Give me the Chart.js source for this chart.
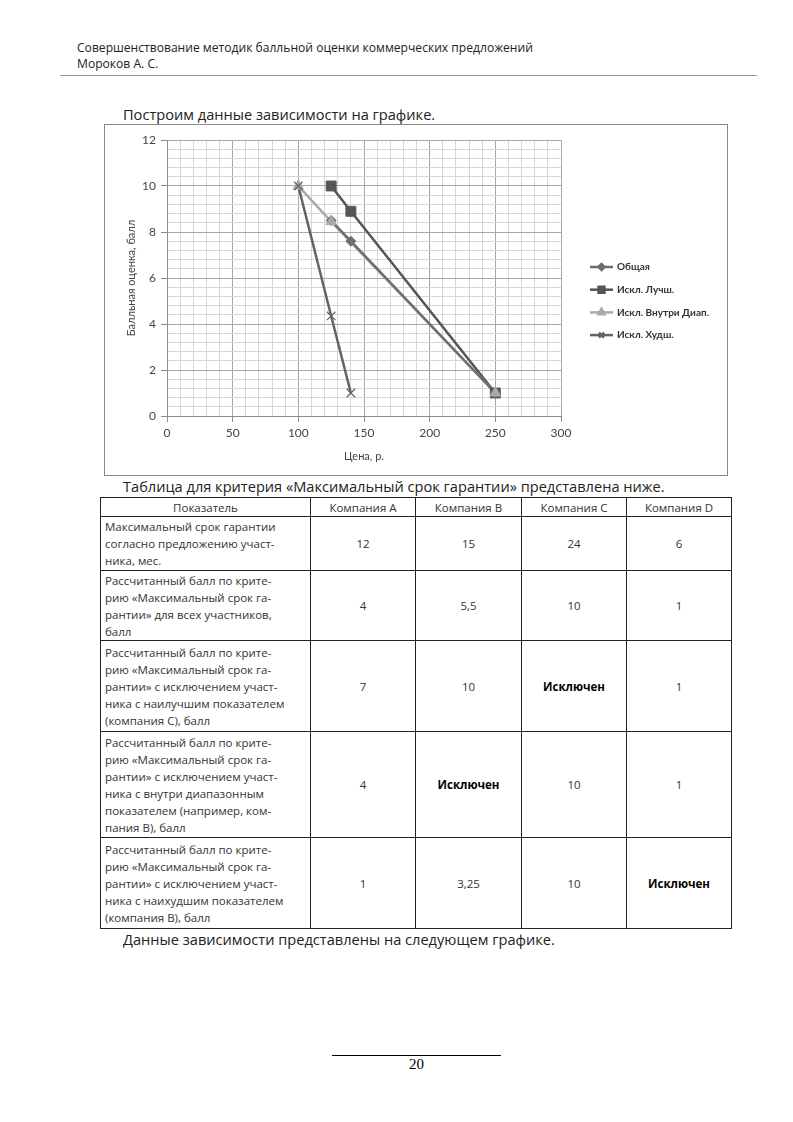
<!DOCTYPE html>
<html>
<head>
<meta charset="utf-8">
<script src="https://cdn.jsdelivr.net/npm/chart.js@4.4.0/dist/chart.umd.min.js"></script>
<style>
  body { margin: 0; background: #fff; }
  .page { position: relative; width: 793px; height: 1122px; font-family: "Open Sans", sans-serif; color: #222; }
  .abs { position: absolute; white-space: nowrap; }
  .head { font-size: 12.1px; left: 77px; }
  .para { font-size: 14.6px; left: 123px; }
  .chartBox { position: absolute; left: 104px; top: 124px; width: 622px; height: 350px; border: 1px solid #8a8a8a; }
  table { position: absolute; left: 100px; top: 497px; border-collapse: collapse; table-layout: fixed; width: 631px; font-size: 11.5px; color: #333; }
  td { border: 1px solid #222; padding: 0 4px; line-height: 17px; text-align: center; vertical-align: middle; white-space: nowrap; overflow: hidden; }
  td.name { text-align: left; }
  td b { font-weight: 700; color: #000; }
</style>
</head>
<body>
<div class="page">
  <div class="abs head" style="top:39px">Совершенствование методик балльной оценки коммерческих предложений</div>
  <div class="abs head" style="top:55px">Мороков А. С.</div>
  <div style="position:absolute; left:60px; top:75px; width:697px; height:1px; background:#999"></div>

  <div class="abs para" style="top:104px">Построим данные зависимости на графике.</div>

  <div class="chartBox"><canvas id="scoreChart"></canvas></div>

  <div class="abs para" style="top:476px">Таблица для критерия «Максимальный срок гарантии» представлена ниже.</div>

  <table>
    <colgroup>
      <col style="width:210px"><col style="width:105px"><col style="width:106px"><col style="width:105px"><col style="width:105px">
    </colgroup>
    <tr style="height:19px">
      <td>Показатель</td>
      <td>Компания A</td>
      <td>Компания B</td>
      <td>Компания C</td>
      <td>Компания D</td>
    </tr>
    <tr style="height:54px">
      <td class="name">Максимальный срок гарантии<br>согласно предложению участ-<br>ника, мес.</td>
      <td>12</td><td>15</td><td>24</td><td>6</td>
    </tr>
    <tr style="height:70px">
      <td class="name">Рассчитанный балл по крите-<br>рию «Максимальный срок га-<br>рантии» для всех участников,<br>балл</td>
      <td>4</td><td>5,5</td><td>10</td><td>1</td>
    </tr>
    <tr style="height:91px">
      <td class="name">Рассчитанный балл по крите-<br>рию «Максимальный срок га-<br>рантии» с исключением участ-<br>ника с наилучшим показателем<br>(компания C), балл</td>
      <td>7</td><td>10</td><td><b>Исключен</b></td><td>1</td>
    </tr>
    <tr style="height:106px">
      <td class="name">Рассчитанный балл по крите-<br>рию «Максимальный срок га-<br>рантии» с исключением участ-<br>ника с внутри диапазонным<br>показателем (например, ком-<br>пания B), балл</td>
      <td>4</td><td><b>Исключен</b></td><td>10</td><td>1</td>
    </tr>
    <tr style="height:91px">
      <td class="name">Рассчитанный балл по крите-<br>рию «Максимальный срок га-<br>рантии» с исключением участ-<br>ника с наихудшим показателем<br>(компания B), балл</td>
      <td>1</td><td>3,25</td><td>10</td><td><b>Исключен</b></td>
    </tr>
  </table>

  <div class="abs para" style="top:929px">Данные зависимости представлены на следующем графике.</div>

  <div style="position:absolute; left:332px; top:1055px; width:169px; height:1px; background:#000"></div>
  <div class="abs" style="top:1056px; left:0; width:833px; text-align:center; font-family:'Liberation Serif', serif; font-size:15px; color:#000">20</div>
</div>

<script>
// Data
const priceGeneral = [125, 140, 250];
const scoreGeneral = [8.5, 7.6, 1];

const priceBest = [125, 140, 250];
const scoreBest = [10, 8.9, 1];

const priceInside = [100, 125, 250];
const scoreInside = [10, 8.45, 1];

const priceWorst = [100, 125, 140];
const scoreWorst = [10, 4.35, 1];

const seriesNames = ["Общая", "Искл. Лучш.", "Искл. Внутри Диап.", "Искл. Худш."];
const seriesColors = ["#6e6e6e", "#555555", "#a9a9a9", "#636363"];
const seriesMarkers = ["rectRot", "rect", "triangle", "crossRot"];
const markerSizes = [5, 7, 6, 6];

function toPoints(xs, ys) {
    return xs.map((x, i) => ({ x: x, y: ys[i] }))
}

const isMajor = (v, step) => Math.abs(v / step - Math.round(v / step)) < 1e-6;

const seriesPoints = [
    toPoints(priceGeneral, scoreGeneral),
    toPoints(priceBest, scoreBest),
    toPoints(priceInside, scoreInside),
    toPoints(priceWorst, scoreWorst)
];

// like Excel: every line first, then every marker on top of them
const lineOrder = [4, 6, 5, 7];
const markerOrder = [2, 3, 1, 0];

let datasets = [];
seriesPoints.forEach((pts, i) => {
    datasets.push({
        label: seriesNames[i],
        data: pts,
        showLine: true,
        borderColor: seriesColors[i],
        backgroundColor: seriesColors[i],
        borderWidth: 2.5,
        pointRadius: 0,
        order: lineOrder[i]
    });
});
seriesPoints.forEach((pts, i) => {
    datasets.push({
        label: seriesNames[i] + " marker",
        data: pts,
        showLine: false,
        borderColor: seriesColors[i],
        backgroundColor: seriesColors[i],
        pointStyle: seriesMarkers[i],
        pointRadius: markerSizes[i],
        pointBorderWidth: seriesMarkers[i] == "crossRot" ? 1.2 : 1,
        order: markerOrder[i]
    });
});

// Excel style legend: line with marker, then text
const lineLegend = {
    id: "lineLegend",
    afterDraw(chart) {
        const c = chart.ctx;
        const x0 = 485, yStart = 142, gap = 22.7;
        seriesNames.forEach((name, i) => {
            const y = yStart + i * gap;
            c.save();
            c.strokeStyle = seriesColors[i];
            c.fillStyle = seriesColors[i];
            c.lineWidth = 2.5;
            c.beginPath();
            c.moveTo(x0, y);
            c.lineTo(x0 + 23, y);
            c.stroke();
            Chart.helpers.drawPoint(c, {
                pointStyle: seriesMarkers[i],
                radius: markerSizes[i] * 0.6,
                borderWidth: 1
            }, x0 + 11.5, y);
            c.fillStyle = "#333";
            c.font = "bold 10px Lato";
            c.textBaseline = "middle";
            c.fillText(name, x0 + 27, y);
            c.restore();
        });
    }
};

const ctx = document.getElementById("scoreChart").getContext("2d");

new Chart(ctx, {
    type: "scatter",
    data: { datasets: datasets },
    options: {
        responsive: true,
        maintainAspectRatio: false,
        animation: false,
        layout: { padding: { left: 16, top: 15, right: 166, bottom: 8 } },
        plugins: {
            legend: { display: false },
            tooltip: { enabled: false }
        },
        scales: {
            x: {
                type: "linear",
                min: 0,
                max: 300,
                afterFit: (scale) => { scale.height = 51 },
                border: { color: "#8c8c8c", width: 1 },
                grid: {
                    color: (c) => isMajor(c.tick.value, 50) ? "#a8a8a8" : "#d6d6d6",
                    tickColor: (c) => isMajor(c.tick.value, 50) ? "#8c8c8c" : "rgba(0,0,0,0)",
                    tickLength: 6
                },
                ticks: {
                    stepSize: 10,
                    autoSkip: false,
                    maxRotation: 0,
                    color: "#444",
                    font: { family: "Lato", size: 12 },
                    padding: 4,
                    callback: (v) => isMajor(v, 50) ? v : ""
                },
                title: {
                    display: true,
                    text: "Цена, р.",
                    color: "#444",
                    font: { family: "Lato", size: 11 }
                }
            },
            y: {
                type: "linear",
                min: 0,
                max: 12,
                afterFit: (scale) => { scale.width = 46 },
                border: { color: "#8c8c8c", width: 1 },
                grid: {
                    color: (c) => isMajor(c.tick.value, 2) ? "#a8a8a8" : "#d6d6d6",
                    tickColor: (c) => isMajor(c.tick.value, 2) ? "#8c8c8c" : "rgba(0,0,0,0)",
                    tickLength: 6
                },
                ticks: {
                    stepSize: 0.4,
                    autoSkip: false,
                    color: "#444",
                    font: { family: "Lato", size: 12 },
                    padding: 5,
                    callback: (v) => isMajor(v, 2) ? Math.round(v) : ""
                },
                title: {
                    display: true,
                    text: "Балльная оценка, балл",
                    color: "#444",
                    font: { family: "Lato", size: 11 }
                }
            }
        }
    },
    plugins: [lineLegend]
});
</script>
</body>
</html>
